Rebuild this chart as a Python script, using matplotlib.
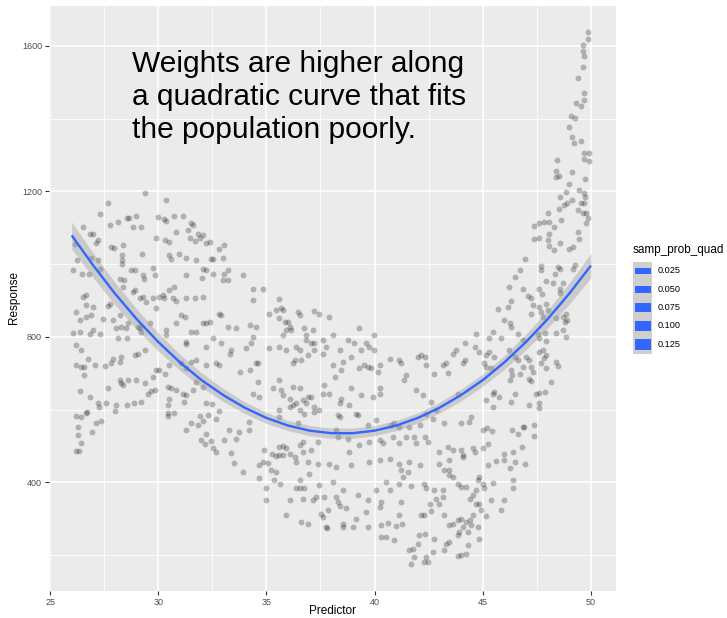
import numpy as np
import matplotlib
matplotlib.use("Agg")
import matplotlib.pyplot as plt
from matplotlib.patches import Rectangle

plt.rcParams['font.family'] = ['Liberation Sans', 'DejaVu Sans']

# scatter points (Predictor, Response)
pts_upper_left = [
    (29.41, 1195), (30.34, 1176), (27.67, 1167), (27.29, 1138), (31.14, 1132), (29.98, 1130), (30.25, 1123),
    (30.37, 1119), (30.75, 1132), (28.67, 1126), (28.98, 1133), (28.55, 1126), (28.15, 1115), (27.75, 1109),
    (29.21, 1103), (28.83, 1103), (26.52, 1101), (26.98, 1084), (26.83, 1083), (27.21, 1066), (27.13, 1059),
    (29.88, 1071), (30.29, 1066), (30.52, 1061), (30.83, 1089), (31.52, 1114), (31.6, 1107), (31.37, 1094),
    (31.83, 1084), (32.06, 1080), (32.22, 1057), (32.37, 1062), (32.83, 1043), (33.06, 1052), (31.45, 1071),
    (31.68, 1064), (31.91, 1071), (30.52, 1025), (30.6, 1013), (30.98, 1029), (31.29, 1018), (31.75, 1011),
    (32.45, 1013), (32.52, 1013), (32.99, 1018), (33.06, 974), (33.22, 984), (33.22, 956), (33.91, 970),
    (34.37, 933), (34.84, 933), (34.37, 901), (35.14, 864), (35.45, 874), (27.83, 1046), (27.94, 1045),
    (28.37, 1052), (28.34, 1025), (28.34, 1011), (28.34, 1000), (28.75, 985), (28.91, 985), (29.24, 1028),
    (29.75, 990), (29.29, 970), (29.32, 958), (29.83, 970), (31.29, 970), (32.06, 988), (32.22, 985),
    (32.03, 961), (32.52, 974), (32.99, 956), (30.75, 938), (30.52, 928), (26.06, 984), (26.49, 974),
    (26.8, 972), (26.13, 1055), (26.26, 1011), (26.9, 1016), (27.21, 1011), (27.29, 988), (28.21, 958),
    (28.44, 956), (28.37, 938), (28.91, 928), (28.83, 924), (29.14, 906), (29.29, 910), (29.44, 896),
    (29.75, 906), (30.03, 910), (30.21, 915), (30.26, 906), (30.68, 906), (30.8, 899), (31.29, 908),
    (31.68, 908), (32.06, 910), (29.91, 878), (26.52, 910), (26.67, 915), (26.98, 883), (26.67, 887),
    (26.21, 869), (26.36, 846), (26.67, 855), (26.9, 860), (27.44, 848), (27.67, 884), (27.75, 890),
    (27.9, 846), (28.21, 860), (28.29, 828), (28.06, 823), (28.52, 823), (28.6, 837), (29.14, 823),
    (29.21, 814), (29.06, 828), (29.6, 837), (30.37, 818), (30.37, 805), (30.83, 837), (31.06, 860),
    (31.22, 855), (31.75, 814), (31.52, 814), (32.06, 837), (32.22, 837), (32.37, 841), (32.83, 864),
    (32.91, 860), (33.22, 828), (33.6, 823), (34.22, 832), (34.53, 826), (34.37, 800), (26.06, 811),
    (26.36, 814), (26.83, 809), (26.98, 818), (27.29, 808), (28.13, 796), (28.55, 796), (31.29, 786),
    (31.29, 780), (32.22, 772), (32.52, 796), (32.91, 782), (33.37, 763), (34.07, 768), (34.3, 782),
    (34.6, 727), (35.14, 768), (26.21, 777), (26.44, 763), (26.21, 722), (26.44, 718), (26.59, 716),
    (26.75, 740), (27.06, 722), (27.52, 719), (27.83, 727), (28.21, 731), (28.29, 745), (27.9, 740),
    (28.91, 750), (29.06, 754), (29.37, 763), (29.91, 708), (30.03, 708), (30.29, 699), (29.75, 690),
    (29.37, 674), (28.98, 681), (28.21, 681), (28.6, 681), (27.67, 658), (28.29, 672), (26.83, 635),
    (26.36, 651), (27.21, 618), (27.6, 617), (28.06, 612), (29.21, 621), (29.52, 644), (29.68, 651),
    (29.83, 653), (30.45, 662), (30.6, 658), (30.83, 653), (31.14, 644), (31.29, 640), (31.6, 653),
    (31.75, 676), (32.06, 662), (31.29, 713), (31.52, 731), (31.75, 736), (31.06, 727), (30.52, 722),
    (32.22, 722), (32.68, 727), (32.83, 722), (33.3, 754), (33.76, 704), (34.22, 708), (34.53, 727),
    (34.6, 676), (34.37, 644), (34.68, 635), (35.3, 658),
]

pts_lower_left = [
    (26.21, 486), (26.32, 486), (26.21, 582), (26.44, 580), (26.29, 529), (26.29, 551), (26.44, 508),
    (26.64, 591), (26.7, 594), (26.95, 538), (27.13, 563), (27.36, 569), (27.98, 596), (30.45, 591),
    (30.45, 582), (30.71, 591), (31.29, 545), (31.52, 562), (31.83, 557), (32.06, 569), (31.91, 582),
    (32.29, 585), (32.68, 575), (32.83, 596), (31.98, 516), (32.14, 505), (32.45, 514), (32.22, 534),
    (32.52, 493), (32.65, 483), (33.06, 516), (33.29, 543), (33.34, 481), (33.49, 453), (33.6, 520),
    (33.72, 539), (34.19, 543), (34.19, 566), (34.65, 447), (34.87, 490), (34.83, 456), (35.07, 452),
    (35.27, 477), (35.45, 472), (35.57, 475), (35.6, 497), (35.76, 499), (35.91, 493), (35.76, 474),
    (36.07, 479), (36.3, 470), (36.37, 456), (36.53, 502), (36.68, 511), (36.71, 484), (35.6, 580),
    (30.49, 630), (30.45, 612), (31.21, 621), (32.22, 617), (32.48, 615), (28.57, 612), (28.86, 618),
    (27.26, 606), (26.56, 695), (28.37, 667),
]

pts_lower_mid = [
    (33.91, 429), (34.68, 413), (34.99, 383), (34.99, 352), (35.22, 433), (35.45, 429), (35.37, 406),
    (35.61, 396), (35.91, 309), (36.07, 351), (36.38, 383), (36.53, 383), (36.76, 383), (36.53, 406),
    (36.68, 355), (36.61, 291), (36.91, 284), (36.99, 424), (37.15, 351), (37.3, 360), (37.45, 392),
    (37.53, 314), (37.61, 305), (37.68, 360), (37.76, 277), (37.79, 275), (37.84, 323), (38.07, 401),
    (38.22, 360), (38.3, 346), (38.38, 334), (38.53, 378), (38.69, 328), (38.53, 277), (38.53, 284),
    (38.99, 277), (39.15, 300), (39.23, 364), (39.61, 319), (39.69, 351), (39.69, 277), (40.07, 378),
    (40.23, 332), (40.3, 346), (40.3, 282), (40.3, 250), (40.53, 401), (40.53, 250), (40.61, 288),
    (40.69, 378), (40.92, 240), (41.0, 279), (41.15, 309), (41.15, 396),
]

pts_mid = [
    (35.6, 903), (35.68, 878), (35.76, 874), (35.6, 851), (35.84, 841), (35.99, 841), (36.07, 828),
    (35.91, 818), (36.14, 818), (35.76, 805), (36.45, 869), (36.53, 860), (37.22, 872), (37.45, 864),
    (37.88, 855), (36.84, 805), (37.14, 818), (36.76, 823), (36.84, 791), (37.07, 782), (37.22, 784),
    (37.61, 791), (37.76, 773), (38.07, 805), (39.27, 823), (39.99, 805), (35.6, 773), (35.91, 763),
    (36.37, 773), (36.53, 763), (36.61, 736), (36.91, 750), (36.34, 736), (37.22, 763), (37.61, 754),
    (38.38, 763), (38.76, 791), (39.07, 782), (39.61, 782), (39.76, 773), (39.99, 763), (39.38, 763),
    (38.92, 745), (38.53, 731), (38.07, 722), (38.15, 690), (38.45, 708), (39.53, 722), (39.69, 718),
    (39.3, 713), (39.84, 713), (40.23, 722), (40.15, 704), (40.69, 740), (41.12, 736), (41.23, 727),
    (41.43, 695), (41.38, 681), (42.0, 745), (42.15, 750), (42.31, 745), (42.38, 722), (42.77, 699),
    (36.22, 727), (35.6, 681), (35.68, 653), (35.76, 640), (36.07, 630), (36.22, 612), (36.38, 617),
    (36.68, 626), (36.91, 635), (37.07, 635), (36.22, 662), (36.53, 658), (36.84, 617), (37.22, 607),
    (37.61, 644), (37.91, 644), (37.68, 667), (38.38, 617), (38.45, 630), (38.84, 612), (38.92, 658),
    (39.38, 640), (39.92, 635), (40.23, 644), (40.23, 658), (41.92, 653), (42.23, 640), (42.61, 621),
    (35.6, 598), (36.07, 608), (36.53, 598), (36.76, 589), (37.22, 594), (37.45, 598), (38.3, 585),
    (38.38, 580), (39.15, 589), (39.23, 585), (39.69, 557), (40.07, 571), (40.77, 557), (40.92, 562),
    (41.15, 552), (41.61, 552), (42.08, 557), (42.38, 589), (42.69, 575), (42.84, 598), (43.23, 562),
    (44.0, 562), (44.38, 566), (36.45, 562), (37.07, 488), (37.38, 511), (38.22, 543), (38.3, 525),
    (38.76, 520), (38.84, 484), (39.3, 502), (39.76, 511), (40.23, 516), (40.38, 507), (40.84, 525),
    (41.15, 507), (41.46, 525), (41.84, 525), (41.92, 507), (42.31, 525), (42.46, 511), (43.0, 484),
    (43.38, 497), (43.61, 488), (44.0, 488), (44.08, 474), (44.54, 493), (36.91, 456), (37.38, 451),
    (37.91, 451), (38.22, 442), (38.92, 447), (39.76, 456), (40.23, 461), (40.69, 465), (41.15, 451),
    (41.61, 456), (42.08, 447), (43.0, 451), (43.46, 461), (44.08, 470), (44.62, 484),
]

pts_lower_right = [
    (41.23, 433), (41.54, 428), (41.33, 415), (43.23, 433), (43.46, 433), (43.46, 419), (43.61, 415),
    (44.85, 415), (44.77, 407), (44.69, 380), (43.85, 396), (44.0, 387), (44.23, 387), (44.54, 364),
    (44.39, 355), (44.69, 341), (44.85, 341), (41.69, 389), (42.3, 395), (42.38, 385), (42.77, 378),
    (43.15, 378), (42.84, 355), (42.99, 341), (43.15, 360), (42.54, 341), (42.61, 320), (42.15, 309),
    (42.3, 309), (41.23, 346), (41.27, 284), (43.23, 309), (43.46, 282), (43.61, 286), (43.85, 295),
    (44.0, 300), (44.08, 277), (44.23, 291), (44.39, 296), (44.46, 282), (44.54, 309), (44.77, 277),
    (44.85, 245), (43.92, 263), (43.85, 254), (44.31, 263), (44.31, 227), (44.23, 204), (44.0, 199),
    (43.85, 196), (43.46, 236), (43.31, 231), (43.23, 213), (42.77, 245), (42.69, 208), (42.07, 254),
    (42.35, 259), (42.0, 231), (42.38, 195), (42.46, 181), (42.3, 181), (41.84, 195), (41.69, 176),
    (41.61, 215), (41.77, 217),
    (45.16, 307), (45.85, 325), (46.0, 352), (45.39, 352), (44.93, 323), (45.0, 396), (45.08, 385),
    (45.46, 398), (46.39, 383), (46.39, 406), (46.27, 438), (46.51, 456), (46.97, 449), (45.59, 458),
    (45.96, 461), (45.96, 479), (45.23, 447), (45.23, 504), (45.0, 493), (46.39, 484), (46.8, 497),
    (47.39, 527), (47.39, 557), (46.85, 552), (46.93, 552), (46.62, 534), (46.34, 543), (45.42, 540),
    (45.03, 543), (45.19, 550),
]

pts_right = [
    (48.0, 1141), (47.85, 1117), (48.08, 1115), (47.59, 1114), (47.39, 1106), (48.31, 1103), (48.62, 1121),
    (48.08, 1084), (49.39, 1089), (49.47, 1068), (47.59, 1071), (47.39, 1069), (48.0, 1066), (48.08, 1050),
    (48.31, 1039), (48.55, 1059), (48.98, 1043), (49.16, 1048), (46.96, 1013), (46.7, 984), (46.47, 965),
    (46.23, 938), (47.67, 996), (47.67, 985), (48.47, 993), (48.58, 988), (47.93, 954), (48.36, 972),
    (49.16, 988), (49.27, 997), (48.24, 947), (46.85, 933), (47.08, 912), (47.24, 906), (47.62, 933),
    (47.74, 917), (48.58, 933), (48.73, 949), (48.58, 921), (45.7, 876), (46.16, 883), (46.31, 899),
    (46.0, 846), (46.27, 837), (46.31, 828), (47.24, 864), (47.31, 887), (47.62, 883), (47.93, 890),
    (48.0, 875), (47.7, 869), (47.78, 855), (48.39, 851), (48.7, 855), (48.85, 862), (48.88, 846),
    (48.78, 841), (48.7, 818), (48.85, 800), (48.39, 811), (47.9, 811), (47.93, 789), (47.62, 796),
    (47.54, 809), (44.69, 807), (45.46, 814), (45.31, 796), (45.85, 798), (46.62, 809), (46.85, 791),
    (46.23, 765), (46.51, 745), (46.62, 736), (47.0, 745), (47.13, 736), (46.85, 718), (46.7, 699),
    (46.31, 708), (46.36, 695), (46.28, 681), (47.62, 759), (47.78, 763), (47.93, 750), (47.85, 741),
    (47.7, 727), (47.24, 718), (47.31, 704), (47.93, 713), (48.39, 731), (48.47, 719), (48.16, 676),
    (47.16, 683), (47.24, 679), (47.47, 644), (47.62, 646), (47.9, 649), (47.62, 617), (47.62, 603),
    (47.16, 612), (46.47, 644), (46.31, 621), (45.77, 635), (45.54, 649), (45.46, 607), (45.16, 626),
    (43.77, 763), (43.62, 754), (44.16, 782), (44.62, 773), (44.85, 759), (45.31, 759), (45.16, 750),
    (45.08, 727), (45.16, 718), (45.54, 745), (43.31, 727), (44.08, 727), (44.16, 736), (43.39, 701),
    (43.15, 722), (45.39, 713), (45.46, 644), (44.46, 580), (43.85, 644),
    (49.62, 1140), (49.78, 1141), (49.85, 1128), (49.78, 1114),
]

pts_top_right = [
    (49.85, 1638), (49.85, 1618), (49.62, 1603), (49.65, 1587), (49.7, 1573), (49.65, 1541), (49.39, 1513),
    (49.7, 1472), (49.7, 1451), (49.32, 1442), (49.55, 1436), (49.08, 1408), (49.27, 1401), (48.98, 1378),
    (49.11, 1350), (49.24, 1334), (49.55, 1339), (49.7, 1305), (49.93, 1305), (49.7, 1289), (49.93, 1285),
    (48.45, 1286), (48.39, 1255), (48.54, 1243), (48.39, 1240), (49.11, 1253), (49.73, 1233), (49.01, 1220),
    (48.85, 1198), (48.59, 1185), (49.47, 1204), (49.7, 1195), (49.75, 1185), (49.13, 1176), (48.88, 1169),
    (48.77, 1164), (49.55, 1167), (49.67, 1167), (48.54, 1153), (49.39, 1149),
]

# weighted quadratic fit
fit_x = [26, 27, 28, 29, 30, 31, 32, 33, 34, 35, 36, 37, 38, 39, 40, 41, 42, 43, 44, 45, 46, 47, 48, 49, 50]
fit_y = [1079, 996, 919, 849, 786, 730, 681, 640, 605, 577, 556, 542, 535, 535, 542, 556, 577, 605, 640,
         681, 730, 786, 849, 919, 996]
fit_se = [37, 34, 31, 28, 25, 22, 20, 18, 16, 15, 14, 14, 14, 14, 14, 14, 14, 15, 16, 17, 19, 22, 25, 29, 34]

legend_values = [0.025, 0.050, 0.075, 0.100, 0.125]
legend_labels = ['0.025', '0.050', '0.075', '0.100', '0.125']

note = "Weights are higher along\na quadratic curve that fits\nthe population poorly."

W, H = 727, 618
fig = plt.figure(figsize=(W / 100, H / 100), dpi=100)
ax = fig.add_axes([49 / W, 1 - 591 / H, 567 / W, 585 / H])
ax.set_facecolor('#EBEBEB')
for s in ax.spines.values():
    s.set_visible(False)

pts = np.array(pts_upper_left + pts_lower_left + pts_lower_mid + pts_mid
               + pts_lower_right + pts_right + pts_top_right)
ax.scatter(pts[:, 0], pts[:, 1], s=18, c='black', alpha=0.25, linewidths=0, zorder=2)

fx = np.array(fit_x)
fy = np.array(fit_y)
se = np.array(fit_se)
ax.fill_between(fx, fy - se, fy + se, color='#999999', alpha=0.4, lw=0, zorder=3)
ax.plot(fx, fy, color='#3366FF', lw=1.7, zorder=4, solid_capstyle='butt')

ax.set_xlim(24.95, 51.16)
ax.set_ylim(101, 1710)
ax.set_xticks([25, 30, 35, 40, 45, 50])
ax.set_xticks([27.5, 32.5, 37.5, 42.5, 47.5], minor=True)
ax.set_yticks([400, 800, 1200, 1600])
ax.set_yticks([200, 600, 1000, 1400], minor=True)
ax.grid(which='major', color='white', lw=1.1)
ax.grid(which='minor', color='white', lw=0.55)
ax.set_axisbelow(True)
ax.tick_params(which='major', length=3, width=0.8, color='#333333',
               labelsize=6.5, labelcolor='#4D4D4D', pad=2)
ax.tick_params(which='minor', length=0)

ax.text(28.8, 1590, note, fontsize=21.5, va='top', ha='left', color='black',
        linespacing=1.24, zorder=5)

fig.text(333 / W, 1 - 611 / H, 'Predictor', ha='center', va='center', fontsize=8.5)
fig.text(14 / W, 1 - 298 / H, 'Response', ha='center', va='center', fontsize=8.5, rotation=90)

# legend
fig.text(633 / W, 1 - 250 / H, 'samp_prob_quad', ha='left', va='center', fontsize=8.5)
key_h = 18.4
top = 261.5
fig.patches.append(Rectangle((633 / W, 1 - (top + 5 * key_h) / H), 19 / W, 5 * key_h / H,
                             transform=fig.transFigure, facecolor='#CFCFCF', edgecolor='none'))
for i, (v, lab) in enumerate(zip(legend_values, legend_labels)):
    cy = top + key_h * (i + 0.5)
    h = 4.8 + 47 * v
    fig.patches.append(Rectangle((635 / W, 1 - (cy + h / 2) / H), 15.7 / W, h / H,
                                 transform=fig.transFigure, facecolor='#3366FF', edgecolor='none'))
    fig.text(658 / W, 1 - cy / H, lab, ha='left', va='center', fontsize=6.6)

fig.savefig('out.png', dpi=100)
